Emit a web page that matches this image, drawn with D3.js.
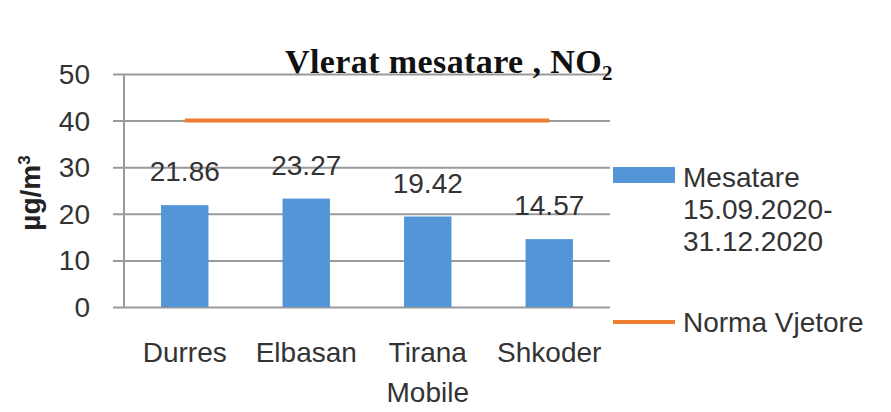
<!DOCTYPE html>
<html>
<head>
<meta charset="utf-8">
<script src="https://cdn.jsdelivr.net/npm/d3@7"></script>
<style>
  body { margin: 0; background: #fff; }
  text { font-family: "Liberation Sans", Arial, sans-serif; fill: #333; }
</style>
</head>
<body>
<div id="canvas"></div>
<script>
/* DATA */
const categories = ["Durres", "Elbasan", "Tirana\nMobile", "Shkoder"];
const mesatare = [21.86, 23.27, 19.42, 14.57];
const norma = [40, 40, 40, 40];
const yTicks = [0, 10, 20, 30, 40, 50];
const legendLabels = [["Mesatare", "15.09.2020-", "31.12.2020"], ["Norma Vjetore"]];

/* CANVAS */
const width = 891;
const height = 412;

const svg = d3.select("#canvas")
    .append("svg")
    .attr("width", width)
    .attr("height", height);

const plotLeft = 124, plotRight = 610, plotTop = 74, plotBottom = 307;

const x = d3.scaleBand()
    .domain(categories)
    .range([plotLeft, plotRight])
    .paddingInner(0.61)
    .paddingOuter(0.305);

const y = d3.scaleLinear()
    .domain([0, 50])
    .range([plotBottom, plotTop]);

/* GRIDLINES + Y AXIS */
const yAxis = d3.axisLeft(y)
    .tickValues(yTicks)
    .tickSize(-(plotRight - plotLeft))
    .tickPadding(0)
    .tickFormat("");

const ga = svg.append("g")
    .attr("transform", `translate(${plotLeft},0)`)
    .call(yAxis);
ga.select(".domain").remove();
ga.selectAll(".tick line")
    .attr("x1", -11)
    .attr("stroke", "#9a9a9a")
    .attr("stroke-width", 2);

svg.append("line")
    .attr("x1", plotLeft).attr("x2", plotLeft)
    .attr("y1", y(50)).attr("y2", y(0))
    .attr("stroke", "#9a9a9a")
    .attr("stroke-width", 2);

svg.selectAll(".ylab")
    .data(yTicks)
    .enter()
    .append("text")
    .attr("x", 90)
    .attr("y", d => y(d))
    .attr("dy", "0.36em")
    .attr("text-anchor", "end")
    .style("font-size", "28px")
    .text(d => d);

/* BARS */
svg.selectAll(".bar")
    .data(mesatare)
    .enter()
    .append("rect")
    .attr("x", (d, i) => x(categories[i]))
    .attr("y", d => y(d))
    .attr("width", x.bandwidth())
    .attr("height", d => y(0) - y(d))
    .attr("fill", "#5296d8");

svg.selectAll(".val")
    .data(mesatare)
    .enter()
    .append("text")
    .attr("x", (d, i) => x(categories[i]) + x.bandwidth() / 2)
    .attr("y", d => y(d) - 34)
    .attr("dy", "0.36em")
    .attr("text-anchor", "middle")
    .style("font-size", "28px")
    .text(d => d.toFixed(2));

/* NORMA LINE */
const line = d3.line()
    .x((d, i) => x(categories[i]) + x.bandwidth() / 2)
    .y(d => y(d));

svg.append("path")
    .datum(norma)
    .attr("d", line)
    .attr("fill", "none")
    .attr("stroke", "#ED7D31")
    .attr("stroke-width", 4);

/* CATEGORY LABELS */
categories.forEach(function(c) {
    const t = svg.append("text")
        .attr("x", x(c) + x.bandwidth() / 2)
        .attr("y", 352)
        .attr("text-anchor", "middle")
        .style("font-size", "28px");
    c.split("\n").forEach(function(part, j) {
        t.append("tspan")
            .attr("x", x(c) + x.bandwidth() / 2)
            .attr("dy", j === 0 ? "0.36em" : 40)
            .text(part);
    });
});

/* TITLE */
const title = svg.append("text")
    .attr("x", 449)
    .attr("y", 73)
    .attr("text-anchor", "middle")
    .style("font-family", "'Liberation Serif', serif")
    .style("font-weight", "bold")
    .style("font-size", "34px")
    .style("letter-spacing", "0.4px")
    .style("fill", "#111");
title.append("tspan").text("Vlerat mesatare , NO");
title.append("tspan").attr("dy", 7).style("font-size", "21px").text("2");

/* Y AXIS TITLE */
const yt = svg.append("text")
    .attr("transform", "translate(30,193) rotate(-90)")
    .attr("text-anchor", "middle")
    .attr("dy", "0.36em")
    .style("font-weight", "bold")
    .style("font-size", "28px")
    .style("fill", "#222");
yt.append("tspan").text("µg/m");
yt.append("tspan").attr("dy", -10).style("font-size", "17px").text("3");

/* LEGEND */
svg.append("rect")
    .attr("x", 613).attr("y", 167)
    .attr("width", 62).attr("height", 16)
    .attr("fill", "#5296d8");

svg.append("line")
    .attr("x1", 613).attr("x2", 675)
    .attr("y1", 322).attr("y2", 322)
    .attr("stroke", "#ED7D31")
    .attr("stroke-width", 4);

const legendY = [177, 322];
legendLabels.forEach(function(lines, i) {
    const t = svg.append("text")
        .attr("x", 683)
        .attr("y", legendY[i])
        .style("font-size", "28px");
    lines.forEach(function(part, j) {
        t.append("tspan")
            .attr("x", 683)
            .attr("dy", j === 0 ? "0.36em" : 32)
            .text(part);
    });
});
</script>
</body>
</html>
